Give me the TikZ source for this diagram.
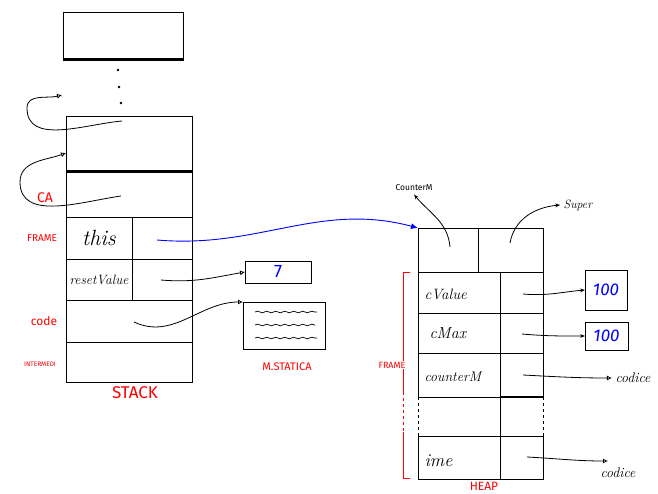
\documentclass[tikz,border=0pt]{standalone}
\usepackage{fontspec}
\setsansfont{Fira Sans}
\usetikzlibrary{arrows.meta,decorations.pathmorphing}
\newcommand{\fs}[1]{\fontsize{#1}{#1}\selectfont}
\begin{document}
\begin{tikzpicture}[x=1pt,y=-1pt,
  cell/.style={draw,line width=0.9pt,inner sep=0pt,outer sep=0pt,anchor=north west},
  rlab/.style={text=red,font=\sffamily\fs{9}},
  hand/.style={font=\itshape\fs{14}},
  val/.style={text=blue,font=\sffamily\itshape\fs{17}},
  conn/.style={line width=0.8pt,-{Latex[open,length=5pt,width=5pt]}},
  wave/.style={line width=0.7pt,decorate,decoration={snake,amplitude=0.8pt,segment length=9pt}}]
\useasboundingbox (0,0) rectangle (658,494);
% ---------- stack ----------
\node[cell,minimum width=120pt,minimum height=48pt] (s0) at (63,12) {};
\draw[line width=3pt] (s0.south west) -- (s0.south east);
\node[fill,circle,inner sep=0.9pt] (d1) at (118,70) {};
\node[fill,circle,inner sep=0.9pt] (d2) at (119,87) {};
\node[fill,circle,inner sep=0.9pt] (d3) at (121,103) {};
\node[cell,minimum width=126pt,minimum height=56pt] (s1) at (66,116) {};
\draw[line width=3pt] (s1.south west) -- (s1.south east);
\node[cell,minimum width=126pt,minimum height=45pt] (s2) at (66,172) {};
\node[cell,minimum width=66pt,minimum height=42pt] (s3a) at (66,217) {};
\node[font=\itshape\fs{22}] (tthis) at (s3a.center) {this};
\node[cell,minimum width=60pt,minimum height=42pt] (s3b) at (132,217) {};
\node[cell,minimum width=66pt,minimum height=41pt] (s4a) at (66,259) {};
\node[font=\itshape\fs{13.5}] (treset) at (s4a.center) {resetValue};
\node[cell,minimum width=60pt,minimum height=41pt] (s4b) at (132,259) {};
\node[cell,minimum width=126pt,minimum height=42pt] (s5) at (66,300) {};
\node[cell,minimum width=126pt,minimum height=40pt] (s6) at (66,342) {};
\node[text=red,font=\sffamily\fs{17}] (lstack) at (135,393) {STACK};
\node[text=red,font=\sffamily\fs{14}] (lca) at (45,198) {CA};
\node[rlab,font=\sffamily\fs{10}] (lframe) at (42,238) {FRAME};
\node[rlab,font=\sffamily\fs{12}] (lcode) at (44,321) {code};
\node[rlab,font=\sffamily\fs{6.5}] (linter) at (40,364) {INTERMEDI};
% loop arrows
\coordinate (a1s) at (122,121);
\coordinate (a1e) at (62,95);
\draw[conn] (a1s) to[out=185,in=-90] (27,108) to[out=90,in=195] (a1e);
\coordinate (a2s) at (121,196);
\coordinate (a2e) at (s1.west |- 0,153);
\draw[conn] (a2s) to[out=188,in=-90] (20,182) to[out=90,in=200] (a2e);
% static memory
\node[cell,minimum width=66pt,minimum height=22pt] (b7) at (245,261) {};
\node[val,font=\sffamily\fs{18}] (t7) at (b7.center) {7};
\node[cell,minimum width=82pt,minimum height=47pt] (stat) at (243,302) {};
\draw[wave] ([xshift=12pt,yshift=-10pt]stat.north west) -- ([xshift=-8pt,yshift=-10pt]stat.north east);
\draw[wave] ([xshift=12pt,yshift=-23pt]stat.north west) -- ([xshift=-10pt,yshift=-23pt]stat.north east);
\draw[wave] ([xshift=12pt,yshift=-36pt]stat.north west) -- ([xshift=-8pt,yshift=-36pt]stat.north east);
\node[text=red,font=\sffamily\fs{11}] (lstat) at (287,367) {M.STATICA};
\coordinate (c7s) at (161,280);
\draw[conn] (c7s) to[out=-5,in=190] (b7.west);
\coordinate (ccs) at (134,322);
\draw[conn] (ccs) to[out=-25,in=180] (stat.north west);
% ---------- heap ----------
\node[cell,minimum width=60pt,minimum height=44pt] (h0a) at (418,228) {};
\node[cell,minimum width=65pt,minimum height=44pt] (h0b) at (478,228) {};
\node[cell,minimum width=82pt,minimum height=41pt] (h1a) at (418,272) {};
\node[cell,minimum width=43pt,minimum height=41pt] (h1b) at (500,272) {};
\node[cell,minimum width=82pt,minimum height=40pt] (h2a) at (418,313) {};
\node[cell,minimum width=43pt,minimum height=40pt] (h2b) at (500,313) {};
\node[cell,minimum width=82pt,minimum height=44pt] (h3a) at (418,353) {};
\node[cell,minimum width=43pt,minimum height=44pt] (h3b) at (500,353) {};
\draw[line width=2.5pt] (h3b.south west) -- (h3b.south east);
\node[cell,minimum width=82pt,minimum height=43pt] (h4a) at (418,436) {};
\node[cell,minimum width=43pt,minimum height=43pt] (h4b) at (500,436) {};
\draw[line width=0.9pt,dashed] (h3a.south west) -- (h4a.north west);
\draw[line width=0.9pt,dashed] (h3b.south east) -- (h4b.north east);
\draw[line width=0.9pt] (h3b.south west) -- (h4b.north west);
\node[hand,font=\itshape\fs{15},anchor=west] (tcv) at (421,294) {cValue};
\node[hand,font=\itshape\fs{16},anchor=west] (tcm) at (426,333) {cMax};
\node[hand,anchor=west] (tcn) at (421,377) {counterM};
\node[hand,font=\itshape\fs{18},anchor=west] (time) at (421,461) {ime};
\node[text=red,font=\sffamily\fs{12}] (lheap) at (484,486) {HEAP};
% frame bracket
\draw[red,line width=0.9pt] (410,272) -- (403,272) -- (403,392);
\draw[red,line width=0.9pt,dashed] (403,392) -- (403,432);
\draw[red,line width=0.9pt] (403,432) -- (403,478) -- (410,478);
\node[rlab,fill=white,inner sep=1pt] (lhf) at (392,365) {FRAME};
% top labels
\node[font=\sffamily\fs{8.5}] (lcm) at (414,188) {CounterM};
\node[font=\itshape\fs{12}] (lsup) at (578,205) {Super};
\coordinate (cms) at (450,247);
\draw[conn,-{Stealth[length=5pt]}] (cms) to[out=95,in=-50] (lcm.south);
\coordinate (sps) at (510,243);
\draw[conn,-{Stealth[length=5pt]}] (sps) to[out=80,in=185] (lsup.west);
% values
\node[cell,minimum width=42pt,minimum height=40pt] (v1) at (585,270) {};
\node[val] (tv1) at (v1.center) {100};
\node[cell,minimum width=43pt,minimum height=28pt] (v2) at (585,322) {};
\node[val] (tv2) at (v2.center) {100};
\coordinate (v1s) at (523,294);
\draw[conn,-{Stealth[length=5pt]}] (v1s) to[out=-5,in=185] (v1.west);
\coordinate (v2s) at (522,334);
\draw[conn,-{Stealth[length=5pt]}] (v2s) to[out=-5,in=180] (v2.west |- 0,336);
\node[font=\itshape\fs{14}] (cod1) at (633,378) {codice};
\coordinate (c1s) at (523,375);
\draw[conn] (c1s) to[out=-3,in=180] (cod1.west);
\node[font=\itshape\fs{14}] (cod2) at (618,473) {codice};
\coordinate (c2s) at (527,457);
\coordinate (c2e) at (608,461);
\draw[conn] (c2s) to[out=-3,in=180] (c2e);
% blue pointer
\coordinate (bps) at (157,240);
\draw[blue,line width=0.9pt,-{Latex[length=7pt,width=6pt]}] (bps) to[out=-5,in=165] (h0a.north west);
\end{tikzpicture}
\end{document}
